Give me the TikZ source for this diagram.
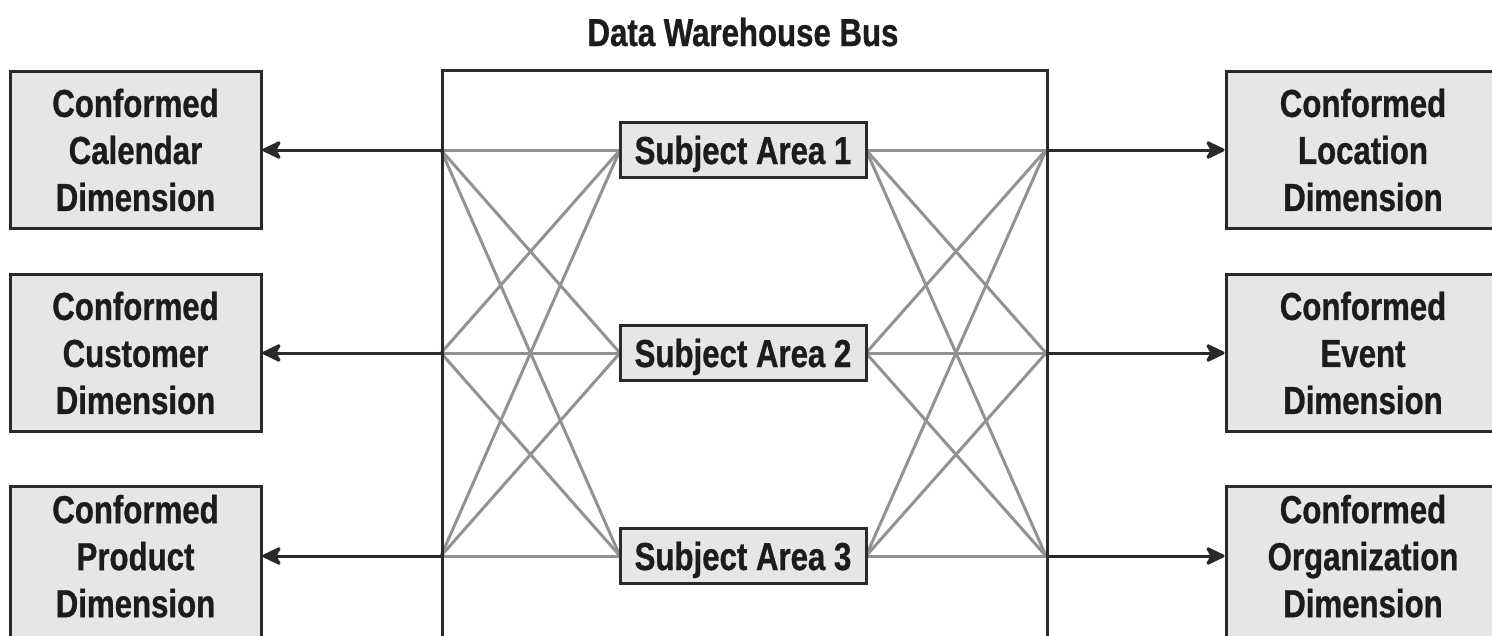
\documentclass[tikz,border=0pt]{standalone}
\usepackage{fontspec}
\setmainfont{Liberation Sans}[FakeStretch=0.8, BoldFeatures={FakeBold=0.8}]
\usetikzlibrary{arrows.meta}
\definecolor{inkdark}{HTML}{1E1B1C}
\definecolor{boxfill}{HTML}{E6E6E6}
\definecolor{linkgray}{HTML}{929292}
\definecolor{framedark}{HTML}{2A2A2A}
% zero-width rule that deepens the last line of a box
\newcommand{\deepline}{\rule[-18pt]{0pt}{18pt}}
\begin{document}
\begin{tikzpicture}[x=1pt,y=-1pt,
  lbl/.style={font=\fontsize{39}{47}\selectfont\bfseries, text=inkdark},
  dimbox/.style={lbl, draw=framedark, fill=boxfill, line width=3pt,
    minimum width=251pt, minimum height=157pt, inner sep=0pt, align=center},
  areabox/.style={lbl, draw=framedark, fill=boxfill, line width=3pt,
    minimum width=246pt, minimum height=55pt, inner sep=0pt,
    text height=28pt, text depth=0pt},
  link/.style={draw=linkgray, line width=3pt},
  feed/.style={draw=framedark, line width=3pt,
    -{Stealth[length=22pt,width=21pt,inset=6pt,round]}},
  busframe/.style={draw=framedark, line width=3pt, inner sep=0pt,
    minimum width=605pt, minimum height=600pt, anchor=north west}]

\useasboundingbox (0,0) rectangle (1492,635);
\clip (0,0) rectangle (1492,635);

% title of the bus
\node[lbl, anchor=base] (title) at (743,46) {Data Warehouse Bus};

% tap points on the bus edges
\coordinate (L1) at (441,150);
\coordinate (L2) at (441,353);
\coordinate (L3) at (441,556);
\coordinate (R1) at (1046,150);
\coordinate (R2) at (1046,353);
\coordinate (R3) at (1046,556);

% subject area anchors (boxes drawn on top of the wiring below)
\coordinate (sa1w) at (620,150);
\coordinate (sa2w) at (620,353);
\coordinate (sa3w) at (620,556);
\coordinate (sa1e) at (866,150);
\coordinate (sa2e) at (866,353);
\coordinate (sa3e) at (866,556);

% every subject area is wired to every tap point
\foreach \i in {1,2,3}{
  \foreach \j in {1,2,3}{
    \draw[link] (L\i) -- (sa\j w);
    \draw[link] (sa\j e) -- (R\i);
  }
}

% bus frame and subject areas
\node[busframe] (bus) at (441,69) {};
\node[areabox] (sa1) at (743,150) {Subject Area 1};
\node[areabox] (sa2) at (743,353) {Subject Area 2};
\node[areabox] (sa3) at (743,556) {Subject Area 3};

% conformed dimensions
\node[dimbox] (cal) at (135.5,150) {Conformed\\Calendar\\Dimension};
\node[dimbox] (cus) at (135.5,353) {Conformed\\Customer\\Dimension};
\node[dimbox] (pro) at (135.5,565) {Conformed\\Product\\Dimension\deepline};
\node[dimbox, minimum width=274pt] (loc) at (1363,150) {Conformed\\Location\\Dimension};
\node[dimbox, minimum width=274pt] (evt) at (1363,353) {Conformed\\Event\\Dimension};
\node[dimbox, minimum width=274pt] (org) at (1363,565) {Conformed\\Organization\\Dimension\deepline};

% feeds from the bus to the dimensions
\draw[feed] (L1) -- (cal.east |- L1);
\draw[feed] (L2) -- (cus.east |- L2);
\draw[feed] (L3) -- (pro.east |- L3);
\draw[feed] (R1) -- (loc.west |- R1);
\draw[feed] (R2) -- (evt.west |- R2);
\draw[feed] (R3) -- (org.west |- R3);
\end{tikzpicture}
\end{document}
